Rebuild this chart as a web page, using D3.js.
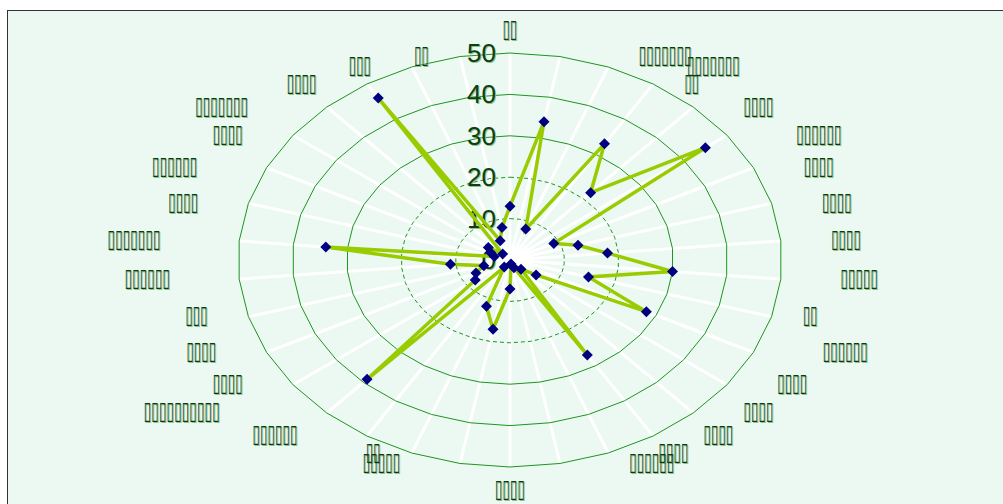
<!DOCTYPE html>
<html>
<head>
<meta charset="utf-8">
<script src="https://cdnjs.cloudflare.com/ajax/libs/d3/7.8.5/d3.min.js"></script>
<style>
  html, body { margin: 0; padding: 0; background: #ffffff; }
  svg { display: block; }
</style>
</head>
<body>
<svg id="chart" width="1003" height="504"></svg>
<script>
// Category labels, clockwise from the top spoke
const categories = [
  "▯▯", "▯▯▯▯▯▯▯", "▯▯▯▯▯▯▯", "▯▯", "▯▯▯▯", "▯▯▯▯▯▯", "▯▯▯▯", "▯▯▯▯", "▯▯▯▯",
  "▯▯▯▯▯", "▯▯", "▯▯▯▯▯▯", "▯▯▯▯", "▯▯▯▯", "▯▯▯▯", "▯▯▯▯", "▯▯▯▯▯▯",
  "▯▯▯▯", "▯▯▯▯▯", "▯▯", "▯▯▯▯▯▯", "▯▯▯▯▯▯▯▯▯▯", "▯▯▯▯", "▯▯▯▯", "▯▯▯",
  "▯▯▯▯▯▯", "▯▯▯▯▯▯▯", "▯▯▯▯", "▯▯▯▯▯▯", "▯▯▯▯", "▯▯▯▯▯▯▯", "▯▯▯▯", "▯▯▯", "▯▯"
];
// Series values, one per category
const values = [
  13, 34, 8, 33, 22, 45, 9, 13, 18, 30, 15, 28, 6, 3, 27, 2, 1,
  7, 17, 12, 2, 39, 8, 7, 5, 11, 34, 3, 4, 5, 2, 46, 5, 8
];
// Radial axis ticks
const ticks = [0, 10, 20, 30, 40, 50];
const dashedTicks = [10, 20];

const svg = d3.select("#chart");
const W = 1003, H = 504;

// plot panel
svg.append("rect")
  .attr("x", 7.5).attr("y", 10.5)
  .attr("width", W + 20).attr("height", H + 20)
  .attr("fill", "#ecf9f2")
  .attr("stroke", "#333333").attr("stroke-width", 1);

const cx = 510, cy = 260;
const rx = d3.scaleLinear().domain([0, 50]).range([0, 272]);
const ry = d3.scaleLinear().domain([0, 50]).range([0, 207]);
const n = categories.length;
const angle = d3.scaleLinear().domain([0, n]).range([0, 2 * Math.PI]);

const px = (i, v) => cx + rx(v) * Math.sin(angle(i));
const py = (i, v) => cy - ry(v) * Math.cos(angle(i));

const g = svg.append("g");

// spokes
g.append("g").selectAll("line")
  .data(categories)
  .join("line")
  .attr("x1", cx).attr("y1", cy)
  .attr("x2", (d, i) => px(i, 50))
  .attr("y2", (d, i) => py(i, 50))
  .attr("stroke", "#ffffff")
  .attr("stroke-width", 3);

// rings
const ringLine = d3.line().curve(d3.curveLinearClosed);
g.append("g").selectAll("path")
  .data(ticks.filter(t => t > 0))
  .join("path")
  .attr("d", t => ringLine(categories.map((c, i) => [px(i, t), py(i, t)])))
  .attr("fill", "none")
  .attr("stroke", "#1f941f")
  .attr("stroke-width", 1)
  .attr("stroke-dasharray", t => dashedTicks.includes(t) ? "4,3" : null);

// tick labels
const tickG = g.append("g")
  .attr("font-family", "Liberation Sans, Arial, sans-serif")
  .attr("font-size", 26)
  .attr("text-anchor", "end")
  .attr("dominant-baseline", "central");
tickG.selectAll("text.sh")
  .data(ticks)
  .join("text")
  .attr("class", "sh")
  .attr("x", cx - 14 + 1).attr("y", t => cy - ry(t) + 1)
  .attr("fill", "#8fbf8f")
  .text(t => t);
tickG.selectAll("text.tk")
  .data(ticks)
  .join("text")
  .attr("class", "tk")
  .attr("x", cx - 14).attr("y", t => cy - ry(t))
  .attr("fill", "#0f3f0f")
  .text(t => t);

// category labels
const charW = 7.7;
function labelPos(d, i) {
  const a = angle(i);
  const s = Math.sin(a);
  const x0 = px(i, 50), y0 = py(i, 50);
  const len = d.length;
  if (Math.abs(s) < 1e-6) {
    const up = Math.cos(a) > 0;
    return [x0, up ? y0 - 25 : y0 + 21];
  }
  const off = 12 + 13.3 * len;
  return [x0 + (s > 0 ? off : -off), y0 - 2];
}
const labG = g.append("g")
  .attr("font-family", "DejaVu Sans, sans-serif")
  .attr("font-size", 25)
  .attr("text-anchor", "middle")
  .attr("dominant-baseline", "central");
[["#8fbf8f", 1], ["#0b3b0b", 0]].forEach(([col, o]) => {
  labG.append("g").selectAll("text")
    .data(categories)
    .join("text")
    .attr("x", (d, i) => labelPos(d, i)[0] + o)
    .attr("y", (d, i) => labelPos(d, i)[1] + o)
    .attr("textLength", d => d.length * charW - 1)
    .attr("lengthAdjust", "spacingAndGlyphs")
    .attr("fill", col)
    .text(d => d);
});

// series line
const pts = values.map((v, i) => [px(i, v), py(i, v)]);
g.append("path")
  .attr("d", ringLine(pts))
  .attr("fill", "none")
  .attr("stroke", "#99cc00")
  .attr("stroke-width", 3.5)
  .attr("stroke-linejoin", "miter");

// markers
g.append("g").selectAll("path")
  .data(values)
  .join("path")
  .attr("transform", (v, i) => `translate(${px(i, v)},${py(i, v)})`)
  .attr("d", "M0,-5.5L5.5,0L0,5.5L-5.5,0Z")
  .attr("fill", "#000080");
</script>
</body>
</html>
